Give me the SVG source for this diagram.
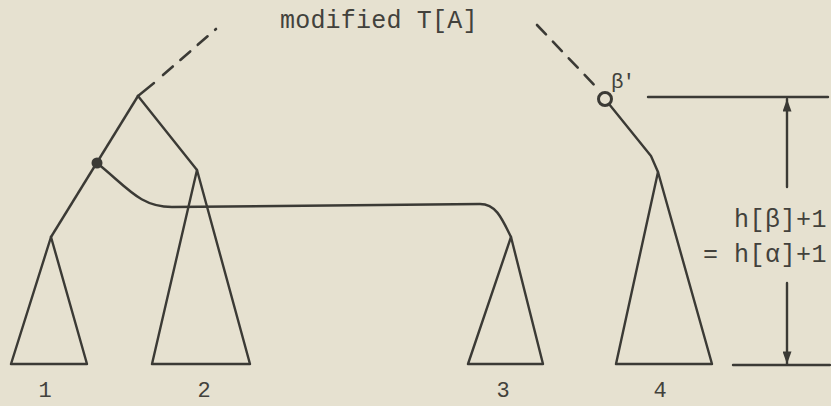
<svg xmlns="http://www.w3.org/2000/svg" width="831" height="406" viewBox="0 0 831 406">
<defs>
<style>
.ln{fill:none;stroke:#3b3a35;stroke-width:2.4;stroke-linecap:round;stroke-linejoin:round}
.ds{fill:none;stroke:#3b3a35;stroke-width:2.6;stroke-linecap:round;stroke-dasharray:13 10}
.tx{font-family:"Liberation Mono","DejaVu Sans Mono",monospace;font-size:25px;fill:#42413c;letter-spacing:0.2px}
.dg{text-anchor:middle;letter-spacing:0;font-size:22px}
</style>
<marker id="ah" viewBox="0 0 14 10" refX="14" refY="5" markerWidth="13" markerHeight="9" markerUnits="userSpaceOnUse" orient="auto">
<path d="M0,0 L14,5 L0,10 Z" fill="#3b3a35"/>
</marker>
</defs>
<rect width="831" height="406" fill="#e6e1d0"/>

<g id="caption"><text class="tx" x="280" y="28">modified T[A]</text></g>

<g id="connectors">
<path class="ln" d="M138,96 L154,83"/>
<path class="ds" d="M163,75 L216,29"/>
<path class="ln" d="M138,96 L51,237"/>
<path class="ln" d="M138,96 L197,170"/>
<path class="ln" d="M97,163 C128,188 140,207 172,207 L480,204 C495,204 501,216 511,237"/>
<path class="ds" d="M537,25 L600,91"/>
<path class="ln" d="M609,104 L651,156 L658,172"/>
</g>

<g id="root"><circle cx="138" cy="96" r="1.2" fill="#3b3a35"/></g>
<g id="alpha"><circle cx="97" cy="163" r="5.5" fill="#3b3a35"/></g>
<g id="beta">
<circle cx="605" cy="99" r="6.5" fill="none" stroke="#3b3a35" stroke-width="3"/>
<text class="tx" x="611" y="88" style="font-size:21px;letter-spacing:-1px">β'</text>
</g>

<g id="tree1"><path class="ln" d="M51,237 L11,364 L87,364 Z"/><text class="tx dg" x="45" y="397">1</text></g>
<g id="tree2"><path class="ln" d="M197,170 L152,364 L250,364 Z"/><text class="tx dg" x="204" y="397">2</text></g>
<g id="tree3"><path class="ln" d="M511,237 L468,364 L543,364 Z"/><text class="tx dg" x="503" y="397">3</text></g>
<g id="tree4"><path class="ln" d="M658,172 L616,364 L712,364 Z"/><text class="tx dg" x="660" y="397">4</text></g>

<g id="height">
<path class="ln" d="M648,97 L828,97"/>
<path class="ln" d="M733,365 L830,365"/>
<path class="ln" d="M787,187 L787,99" marker-end="url(#ah)"/>
<path class="ln" d="M787,283 L787,364" marker-end="url(#ah)"/>
<text class="tx" x="734" y="227" style="letter-spacing:0.5px">h[β]+1</text>
<text class="tx" x="703" y="262" style="letter-spacing:0.5px">= h[α]+1</text>
</g>
</svg>
